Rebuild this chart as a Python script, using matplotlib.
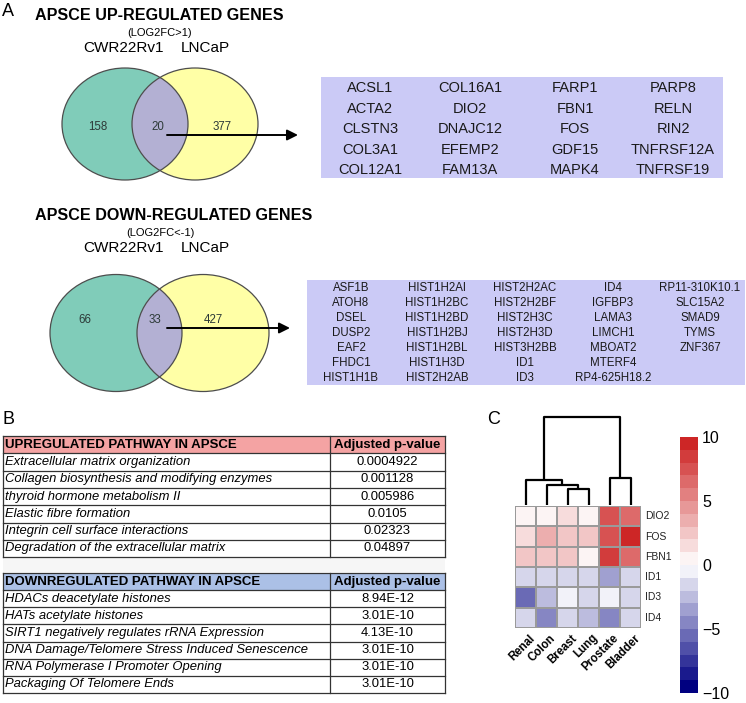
import matplotlib
matplotlib.use('Agg')
import matplotlib.pyplot as plt
import numpy as np
from matplotlib.patches import Ellipse, Rectangle
from matplotlib.colors import LinearSegmentedColormap, ListedColormap, BoundaryNorm

plt.rcParams['font.family'] = ['Liberation Sans', 'DejaVu Sans']

W, H = 746, 703

# ---------------- data ----------------
set_names = ['CWR22Rv1', 'LNCaP']
up_counts = [158, 20, 377]          # CWR only, both, LNCaP only
down_counts = [66, 33, 427]

up_genes = ['ACSL1', 'ACTA2', 'CLSTN3', 'COL3A1', 'COL12A1',
            'COL16A1', 'DIO2', 'DNAJC12', 'EFEMP2', 'FAM13A',
            'FARP1', 'FBN1', 'FOS', 'GDF15', 'MAPK4',
            'PARP8', 'RELN', 'RIN2', 'TNFRSF12A', 'TNFRSF19']
down_genes = ['ASF1B', 'ATOH8', 'DSEL', 'DUSP2', 'EAF2', 'FHDC1', 'HIST1H1B',
              'HIST1H2AI', 'HIST1H2BC', 'HIST1H2BD', 'HIST1H2BJ', 'HIST1H2BL', 'HIST1H3D', 'HIST2H2AB',
              'HIST2H2AC', 'HIST2H2BF', 'HIST2H3C', 'HIST2H3D', 'HIST3H2BB', 'ID1', 'ID3',
              'ID4', 'IGFBP3', 'LAMA3', 'LIMCH1', 'MBOAT2', 'MTERF4', 'RP4-625H18.2',
              'RP11-310K10.1', 'SLC15A2', 'SMAD9', 'TYMS', 'ZNF367']

up_pathways = ['Extracellular matrix organization',
               'Collagen biosynthesis and modifying enzymes',
               'thyroid hormone metabolism II',
               'Elastic fibre formation',
               'Integrin cell surface interactions',
               'Degradation of the extracellular matrix']
up_pvalues = ['0.0004922', '0.001128', '0.005986', '0.0105', '0.02323', '0.04897']
down_pathways = ['HDACs deacetylate histones',
                 'HATs acetylate histones',
                 'SIRT1 negatively regulates rRNA Expression',
                 'DNA Damage/Telomere Stress Induced Senescence',
                 'RNA Polymerase I Promoter Opening',
                 'Packaging Of Telomere Ends']
down_pvalues = ['8.94E-12', '3.01E-10', '4.13E-10', '3.01E-10', '3.01E-10', '3.01E-10']

tissues = ['Renal', 'Colon', 'Breast', 'Lung', 'Prostate', 'Bladder']
heat_genes = ['DIO2', 'FOS', 'FBN1', 'ID1', 'ID3', 'ID4']
heat_values = [
    [0.5, 0.3, 1.5, 0.5, 7.5, 6.5],
    [1.5, 3.0, 2.5, 2.5, 7.5, 9.5],
    [2.5, 2.5, 2.5, 0.3, 8.5, 6.5],
    [-2.0, -2.0, -2.0, -2.0, -3.2, -1.5],
    [-5.2, -3.0, -0.5, -2.0, -0.5, -1.5],
    [-1.5, -4.5, -1.5, -3.0, -4.2, -1.5],
]
# column dendrogram: (left, right, height)
col_tree = (('Renal', ('Colon', ('Breast', 'Lung', 1.8), 2.3), 2.8),
            ('Prostate', 'Bladder', 3.1), 10.0)

# ---------------- figure ----------------
fig = plt.figure(figsize=(W / 100, H / 100), dpi=100)
ax = fig.add_axes([0, 0, 1, 1])
ax.set_xlim(0, W)
ax.set_ylim(H, 0)
ax.axis('off')

TEAL = '#80ccb9'
YEL = '#ffffa6'
OVER = '#b3b0d3'
BOXC = '#cbcaf6'
EDGE = '#4d4d4d'


def venn(cx1, cx2, cy, w, h, counts, count_x, count_y, title, sub, ty, arrow_y, arrow_end):
    e1 = Ellipse((cx1, cy), w, h, facecolor=TEAL, edgecolor='none')
    e2 = Ellipse((cx2, cy), w, h, facecolor=YEL, edgecolor='none')
    ax.add_patch(e1)
    ax.add_patch(e2)
    clipper = Ellipse((cx1, cy), w, h, facecolor='none', edgecolor='none')
    ax.add_patch(clipper)
    e3 = Ellipse((cx2, cy), w, h, facecolor=OVER, edgecolor='none')
    ax.add_patch(e3)
    e3.set_clip_path(clipper)
    for cx in (cx1, cx2):
        ax.add_patch(Ellipse((cx, cy), w, h, facecolor='none', edgecolor=EDGE, lw=0.9))
    for x, c in zip(count_x, counts):
        ax.text(x, count_y, str(c), ha='center', va='center', fontsize=8.3, color='#2d3a38')
    ax.text(35, ty, title, ha='left', va='center', fontsize=11.6, fontweight='bold')
    ax.text(160, ty + 17, sub, ha='center', va='center', fontsize=8)
    ax.text(124, ty + 32, set_names[0], ha='center', va='center', fontsize=11)
    ax.text(205, ty + 32, set_names[1], ha='center', va='center', fontsize=11)
    ax.annotate('', xy=(arrow_end, arrow_y), xytext=(167, arrow_y),
                arrowprops=dict(arrowstyle='-|>', color='black', lw=1.4,
                                mutation_scale=16, shrinkA=0, shrinkB=0))


venn(125, 195, 124, 126, 112, up_counts, [98, 158, 222], 127,
     'APSCE UP-REGULATED GENES', '(LOG2FC>1)', 16, 135, 298)
venn(116, 203, 333, 132, 117, down_counts, [85, 155, 213], 320,
     'APSCE DOWN-REGULATED GENES', '(LOG2FC<-1)', 216, 328, 290)

ax.text(2, 12, 'A', ha='left', va='center', fontsize=13)
ax.text(2, 419, 'B', ha='left', va='center', fontsize=13)
ax.text(487, 419, 'C', ha='left', va='center', fontsize=13)

# gene boxes
ax.add_patch(Rectangle((321, 77), 723 - 321, 101, facecolor=BOXC, edgecolor='none'))
up_cols = [370, 470, 575, 673]
for i, g in enumerate(up_genes):
    c, r = divmod(i, 5)
    ax.text(up_cols[c], 88 + r * 20.6, g, ha='center', va='center', fontsize=10.5, color='#1a1a1a')

ax.add_patch(Rectangle((307, 280), 745 - 307, 105, facecolor=BOXC, edgecolor='none'))
down_cols = [351, 437, 525, 613, 700]
for i, g in enumerate(down_genes):
    c, r = divmod(i, 7)
    ax.text(down_cols[c], 288 + r * 15.0, g, ha='center', va='center', fontsize=8.3, color='#1a1a1a')


# tables
def table(top, rowh, header, head_color, names, values):
    x0, xd, x1 = 3, 330, 445
    n = len(names) + 1
    ax.add_patch(Rectangle((x0, top), x1 - x0, rowh, facecolor=head_color, edgecolor='none'))
    for i in range(n + 1):
        ax.plot([x0, x1], [top + i * rowh] * 2, color='#333333', lw=0.9)
    for x in (x0, xd, x1):
        ax.plot([x, x], [top, top + n * rowh], color='#333333', lw=0.9)
    ax.text(x0 + 2, top + rowh / 2, header, ha='left', va='center', fontsize=9.5,
            fontweight='bold')
    ax.text((xd + x1) / 2, top + rowh / 2, 'Adjusted p-value', ha='center', va='center',
            fontsize=9.5, fontweight='bold')
    for i, (nm, v) in enumerate(zip(names, values)):
        y = top + (i + 1.5) * rowh
        ax.text(x0 + 2, y, nm, ha='left', va='center', fontsize=9.4, style='italic')
        ax.text((xd + x1) / 2, y, v, ha='center', va='center', fontsize=9.4)


table(436, 17.3, 'UPREGULATED PATHWAY IN APSCE', '#f4a3a3', up_pathways, up_pvalues)
ax.add_patch(Rectangle((3, 558), 442, 14, facecolor='#f6f6f6', edgecolor='none'))
table(573, 17.15, 'DOWNREGULATED PATHWAY IN APSCE', '#abc0e6', down_pathways, down_pvalues)

# ---------------- heatmap ----------------
hx0, hx1, hy0, hy1 = 515, 641, 506, 628
hax = fig.add_axes([hx0 / W, 1 - hy1 / H, (hx1 - hx0) / W, (hy1 - hy0) / H])
ramp = LinearSegmentedColormap.from_list('pheat', ['#000080', '#ffffff', '#cd2626'])
cmap = ListedColormap([ramp(v) for v in np.linspace(0, 1, 20)])
norm = BoundaryNorm(np.linspace(-10, 10, 21), cmap.N)
vals = np.array(heat_values)
hax.pcolormesh(np.arange(7), np.arange(7), vals, cmap=cmap, norm=norm,
               edgecolors='#9a9a9a', linewidth=1.3)
hax.set_xlim(0, 6)
hax.set_ylim(6, 0)
hax.axis('off')
for j, g in enumerate(heat_genes):
    hax.text(6.2, j + 0.5, g, ha='left', va='center', fontsize=7.5, color='#222222')
for i, t in enumerate(tissues):
    hax.text(i + 0.65, 6.2, t, ha='right', va='top', rotation=45, rotation_mode='anchor',
             fontsize=8.3, fontweight='bold')

# dendrogram
dax = fig.add_axes([hx0 / W, 1 - 505 / H, (hx1 - hx0) / W, 90 / H])
dax.set_xlim(0, 6)
dax.set_ylim(0, 10.2)
dax.axis('off')


def draw(node):
    if isinstance(node, str):
        return tissues.index(node) + 0.5, 0.0
    l, r, h = node
    xl, yl = draw(l)
    xr, yr = draw(r)
    dax.plot([xl, xl, xr, xr], [yl, h, h, yr], color='black', lw=1.6, solid_capstyle='butt')
    return (xl + xr) / 2, h


draw(col_tree)

# colorbar
cax = fig.add_axes([680 / W, 1 - 693 / H, 18 / W, 256 / H])
sm = plt.cm.ScalarMappable(norm=norm, cmap=cmap)
cb = fig.colorbar(sm, cax=cax, ticks=[-10, -5, 0, 5, 10])
cb.outline.set_visible(False)
cb.ax.minorticks_off()
cb.ax.tick_params(which='both', length=0, labelsize=11.5, pad=3)

fig.savefig('out.png', dpi=100)
